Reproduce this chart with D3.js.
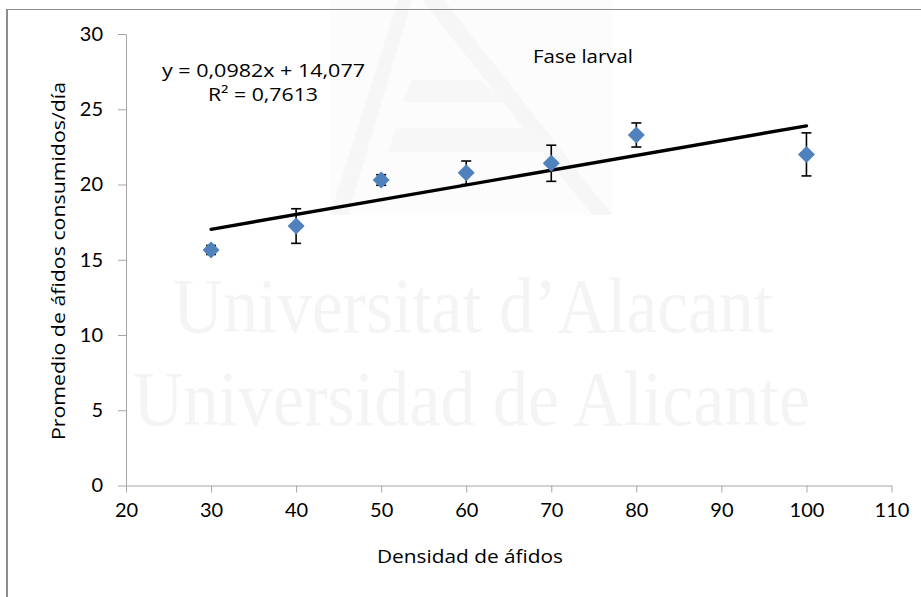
<!DOCTYPE html>
<html>
<head>
<meta charset="utf-8">
<script src="https://cdn.jsdelivr.net/npm/d3@7"></script>
<style>
  html, body { margin: 0; padding: 0; background: #fff; }
  svg { display: block; }
</style>
</head>
<body>
<svg id="chart" width="921" height="597"></svg>
<script>
// Densidad de áfidos vs. consumo medio diario (fase larval)
const densities = [30, 40, 50, 60, 70, 80, 100];
const meanConsumed = [15.65, 17.24, 20.3, 20.78, 21.41, 23.29, 22.0];
const errorMargin = [0.3, 1.15, 0.35, 0.78, 1.2, 0.8, 1.43];
const xTicks = [20, 30, 40, 50, 60, 70, 80, 90, 100, 110];
const yTicks = [0, 5, 10, 15, 20, 25, 30];
const slope = 0.0982;
const intercept = 14.077;
const rSquared = "0,7613";

const svg = d3.select("#chart");
const font = "'Open Sans', Lato, sans-serif";
const tickFont = "Lato, 'Open Sans', sans-serif";

// Faint watermark behind the chart
const wm = svg.append("g");
wm.append("rect").attr("x", 330).attr("y", 0).attr("width", 282).attr("height", 215).attr("fill", "#fcfcfc");
wm.append("path").attr("d", "M330,215 L398,0 L412,0 L348,215 Z").attr("fill", "#f6f6f6");
wm.append("path").attr("d", "M422,0 L444,0 L612,215 L592,215 Z").attr("fill", "#f6f6f6");
wm.append("path").attr("d", "M412,80 L480,80 L505,102 L402,102 Z").attr("fill", "#f7f7f7");
wm.append("path").attr("d", "M396,128 L525,128 L555,152 L388,152 Z").attr("fill", "#f7f7f7");
const wmFont = "'Liberation Serif', 'DejaVu Serif', serif";
wm.append("text").attr("x", 173).attr("y", 332).attr("textLength", 600)
  .attr("lengthAdjust", "spacingAndGlyphs")
  .attr("font-family", wmFont).attr("font-size", 78)
  .attr("fill", "#f4f4f4").text("Universitat d’Alacant");
wm.append("text").attr("x", 133).attr("y", 425).attr("textLength", 677)
  .attr("lengthAdjust", "spacingAndGlyphs")
  .attr("font-family", wmFont).attr("font-size", 78)
  .attr("fill", "#f4f4f4").text("Universidad de Alicante");

// Outer frame
svg.append("line").attr("x1", 7).attr("x2", 921).attr("y1", 9.5).attr("y2", 9.5)
  .attr("stroke", "#8c8c8c").attr("stroke-width", 1);
svg.append("line").attr("x1", 7).attr("x2", 7).attr("y1", 9).attr("y2", 597)
  .attr("stroke", "#8c8c8c").attr("stroke-width", 2);

const x = d3.scaleLinear().domain([20, 110]).range([126, 891.5]);
const y = d3.scaleLinear().domain([0, 30]).range([485.5, 34]);

const axisColor = "#a6a6a6";

const gx = svg.append("g").attr("transform", "translate(0,485.5)")
  .call(d3.axisBottom(x).tickValues(xTicks).tickSize(7).tickSizeOuter(0).tickPadding(10));
const gy = svg.append("g").attr("transform", "translate(126,0)")
  .call(d3.axisLeft(y).tickValues(yTicks).tickSize(8).tickSizeOuter(0).tickPadding(15));

[gx, gy].forEach(g => {
  g.select(".domain").attr("stroke", axisColor);
  g.selectAll(".tick line").attr("stroke", axisColor);
  g.selectAll(".tick text").attr("fill", "#000").attr("font-family", tickFont).attr("font-size", 20);
});

// Axis titles
svg.append("text").attr("x", 470).attr("y", 563).attr("text-anchor", "middle")
  .attr("font-family", font).attr("font-size", 18)
  .attr("textLength", 186).attr("lengthAdjust", "spacingAndGlyphs")
  .text("Densidad de áfidos");
svg.append("text").attr("transform", "translate(65,261) rotate(-90)").attr("text-anchor", "middle")
  .attr("font-family", font).attr("font-size", 18)
  .attr("textLength", 358).attr("lengthAdjust", "spacingAndGlyphs")
  .text("Promedio de áfidos consumidos/día");

// Trend line
const xs = d3.extent(densities);
svg.append("line")
  .attr("x1", x(xs[0])).attr("y1", y(slope * xs[0] + intercept))
  .attr("x2", x(xs[1])).attr("y2", y(slope * xs[1] + intercept))
  .attr("stroke", "#000").attr("stroke-width", 3.4).attr("stroke-linecap", "round");

// Error bars
const points = densities.map((d, i) => ({ x: d, y: meanConsumed[i], e: errorMargin[i] }));
const eb = svg.append("g").attr("stroke", "#000").attr("stroke-width", 1.6);
points.forEach(p => {
  eb.append("line").attr("x1", x(p.x)).attr("x2", x(p.x)).attr("y1", y(p.y - p.e)).attr("y2", y(p.y + p.e));
  [p.y - p.e, p.y + p.e].forEach(v => {
    eb.append("line").attr("x1", x(p.x) - 5).attr("x2", x(p.x) + 5).attr("y1", y(v)).attr("y2", y(v));
  });
});

// Diamond markers
svg.append("g").selectAll("path").data(points).join("path")
  .attr("transform", d => `translate(${x(d.x)},${y(d.y)})`)
  .attr("d", "M0,-8.5 L8.5,0 L0,8.5 L-8.5,0 Z")
  .attr("fill", "#4f81bd");

// Regression equation and title
svg.append("text").attr("x", 162).attr("y", 77).attr("font-family", font).attr("font-size", 18)
  .attr("textLength", 203).attr("lengthAdjust", "spacingAndGlyphs")
  .text(`y = ${String(slope).replace(".", ",")}x + ${String(intercept).replace(".", ",")}`);
svg.append("text").attr("x", 208).attr("y", 101).attr("font-family", font).attr("font-size", 18)
  .attr("textLength", 110).attr("lengthAdjust", "spacingAndGlyphs")
  .text(`R² = ${rSquared}`);
svg.append("text").attr("x", 533).attr("y", 63).attr("font-family", font).attr("font-size", 18)
  .attr("textLength", 100).attr("lengthAdjust", "spacingAndGlyphs")
  .text("Fase larval");
</script>
</body>
</html>
